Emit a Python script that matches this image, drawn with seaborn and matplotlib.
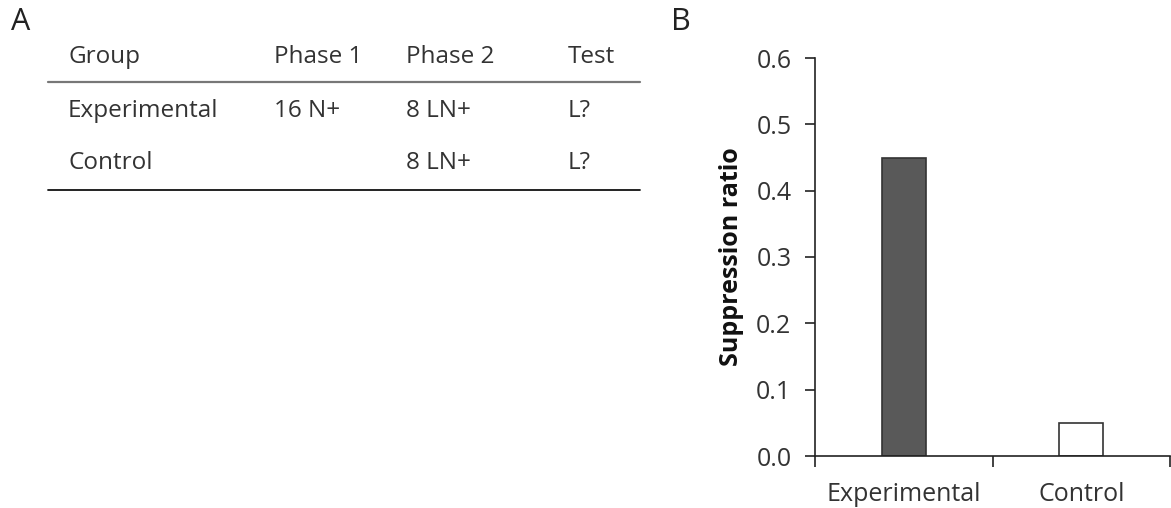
import matplotlib
matplotlib.use("Agg")
import matplotlib.pyplot as plt
import seaborn as sns
import pandas as pd

# table data (panel A)
table_header = ["Group", "Phase 1", "Phase 2", "Test"]
table_rows = [
    ["Experimental", "16 N+", "8 LN+", "L?"],
    ["Control", "", "8 LN+", "L?"],
]

# bar data (panel B)
groups = ["Experimental", "Control"]
ratios = [0.45, 0.05]
bar_colors = ["#595959", "#ffffff"]

sns.set_style("white")
plt.rcParams["font.family"] = ["Open Sans", "DejaVu Sans"]

fig = plt.figure(figsize=(11.71, 5.08), dpi=100)
W, H = 1171, 508

def fx(px):
    return px / W

def fy(py):
    return 1 - py / H

# panel A: table drawn as text + rules
fig.text(fx(11), fy(22), "A", fontsize=22, va="center", ha="left", color="#222222")
col_x = [68, 274, 406, 568]
for x, lab in zip(col_x, table_header):
    fig.text(fx(x), fy(57), lab, fontsize=17.5, va="center", ha="left", color="#333333")
row_y = [111, 163]
for y, row in zip(row_y, table_rows):
    for x, cell in zip(col_x, row):
        fig.text(fx(x), fy(y), cell, fontsize=17.5, va="center", ha="left", color="#333333")
fig.add_artist(plt.Line2D([fx(48), fx(640)], [fy(82), fy(82)], color="#777777", lw=1.6))
fig.add_artist(plt.Line2D([fx(48), fx(640)], [fy(190), fy(190)], color="#111111", lw=1.3))

# panel B: bar chart
fig.text(fx(671), fy(22), "B", fontsize=22, va="center", ha="left", color="#222222")
ax = fig.add_axes([fx(815), fy(456), fx(1170) - fx(815), fy(58) - fy(456)])
df = pd.DataFrame({"group": groups, "ratio": ratios})
sns.barplot(data=df, x="group", y="ratio", hue="group", palette=bar_colors,
            width=0.25, edgecolor="#333333", linewidth=1.2, legend=False, ax=ax)

ax.set_xlim(-0.5, 1.5)
ax.set_ylim(0, 0.6)
ax.set_yticks([0.0, 0.1, 0.2, 0.3, 0.4, 0.5, 0.6])
ax.set_yticklabels([f"{v:.1f}" for v in [0.0, 0.1, 0.2, 0.3, 0.4, 0.5, 0.6]])
ax.set_xticks([-0.5, 0.5, 1.5], minor=True)
ax.tick_params(axis="x", which="major", bottom=True, length=0, pad=19, labelsize=18, labelcolor="#333333")
ax.tick_params(axis="x", which="minor", bottom=True, length=8, width=1.2, direction="out", color="#222222")
ax.tick_params(axis="y", left=True, length=7, width=1.2, direction="out", color="#222222",
               labelsize=18, labelcolor="#333333", pad=10)
ax.set_xlabel("")
ax.set_ylabel("Suppression ratio", fontsize=18, fontweight="bold", color="#111111", labelpad=9)
for s in ["top", "right"]:
    ax.spines[s].set_visible(False)
for s in ["left", "bottom"]:
    ax.spines[s].set_color("#222222")
    ax.spines[s].set_linewidth(1.2)
ax.set_facecolor("white")

fig.savefig("out.png", dpi=100, facecolor="white")
